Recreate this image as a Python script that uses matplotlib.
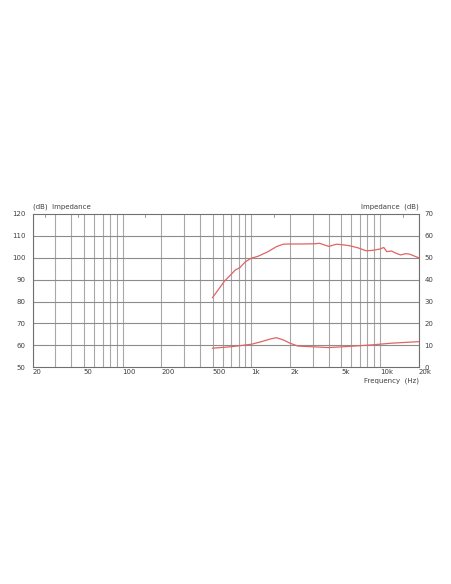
import matplotlib
matplotlib.use('Agg')
import matplotlib.pyplot as plt
from matplotlib.ticker import FixedLocator, NullLocator

# values
spl_freq = [500, 620, 700, 750, 815, 900, 1000, 1130, 1350, 1570, 1770, 2000, 2500,
            3100, 3400, 4000, 4600, 5200, 5800, 6700, 7800, 8800, 10000, 10700,
            11300, 12300, 13400, 14500, 15900, 17100, 20000]
spl_db = [81.8, 89.4, 92.5, 94.4, 95.5, 98.2, 99.8, 100.7, 102.8, 105.1, 106.2, 106.3, 106.3,
          106.4, 106.6, 105.2, 106.2, 105.9, 105.5, 104.6, 103.2, 103.4, 104.0, 104.7,
          102.8, 103.1, 102.0, 101.3, 101.9, 101.6, 100.0]

imp_freq = [500, 700, 1000, 1200, 1400, 1570, 1770, 2000, 2300, 2900, 4000, 5300, 8600, 12300, 20000]
imp_val = [8.7, 9.4, 10.5, 11.7, 12.9, 13.5, 12.5, 11.0, 9.7, 9.4, 9.0, 9.4, 10.2, 11.0, 11.7]

grid_freqs = [20, 30, 40, 50, 60, 70, 80, 90, 100, 200, 300, 400, 500, 600, 700, 800, 900,
              1000, 2000, 3000, 4000, 5000, 6000, 7000, 8000, 9000, 10000, 20000]
xtick_freqs = [20, 50, 100, 200, 500, 1000, 2000, 5000, 10000, 20000]
xtick_labels = ['20', '50', '100', '200', '500', '1k', '2k', '5k', '10k', '20k']
top_ticks = [25, 45, 150, 1500, 15000]
left_ticks = [50, 60, 70, 80, 90, 100, 110, 120]
right_ticks = [0, 10, 20, 30, 40, 50, 60, 70]

txt = '#404040'
gridc = '#a8a8a8'
red = '#e06464'

fig = plt.figure(figsize=(4.52, 5.84), dpi=100)
ax = fig.add_axes([0.0723, 0.3711, 0.854, 0.2625])
ax.set_xscale('log')
ax.set_xlim(20, 20000)
ax.set_ylim(50, 120)

for f in grid_freqs:
    ax.axvline(f, color=gridc, lw=0.8, zorder=1)
for v in left_ticks[1:-1]:
    ax.axhline(v, color='#8c8c8c', lw=0.8, zorder=1)

ax.plot(spl_freq, spl_db, color=red, lw=0.9, zorder=3)

ax.xaxis.set_major_locator(FixedLocator(xtick_freqs))
ax.xaxis.set_minor_locator(NullLocator())
ax.set_xticklabels(xtick_labels)
for lab in ax.get_xticklabels():
    lab.set_horizontalalignment('left')
ax.tick_params(axis='x', length=0, pad=1.5, labelsize=5, labelcolor=txt)
ax.set_yticks(left_ticks)
ax.tick_params(axis='y', length=0, pad=5, labelsize=5, labelcolor=txt)
for s in ax.spines.values():
    s.set_color('#707070')
    s.set_linewidth(0.8)

# small ticks along the top edge
for f in top_ticks:
    ax.plot([f, f], [120, 118.8], color='#909090', lw=0.6, zorder=2)

ax2 = ax.twinx()
ax2.set_ylim(0, 70)
ax2.plot(imp_freq, imp_val, color=red, lw=0.9, zorder=3)
ax2.set_yticks(right_ticks)
ax2.tick_params(axis='y', length=0, pad=4, labelsize=5, labelcolor=txt)
for s in ax2.spines.values():
    s.set_visible(False)

fig.text(0.0723, 0.6465, '(dB)  Impedance', fontsize=5, color=txt, ha='left', va='center')
fig.text(0.9263, 0.6465, 'Impedance  (dB)', fontsize=5, color=txt, ha='right', va='center')
fig.text(0.9263, 0.3485, 'Frequency  (Hz)', fontsize=5, color=txt, ha='right', va='center')

fig.savefig('out.png', dpi=100)
